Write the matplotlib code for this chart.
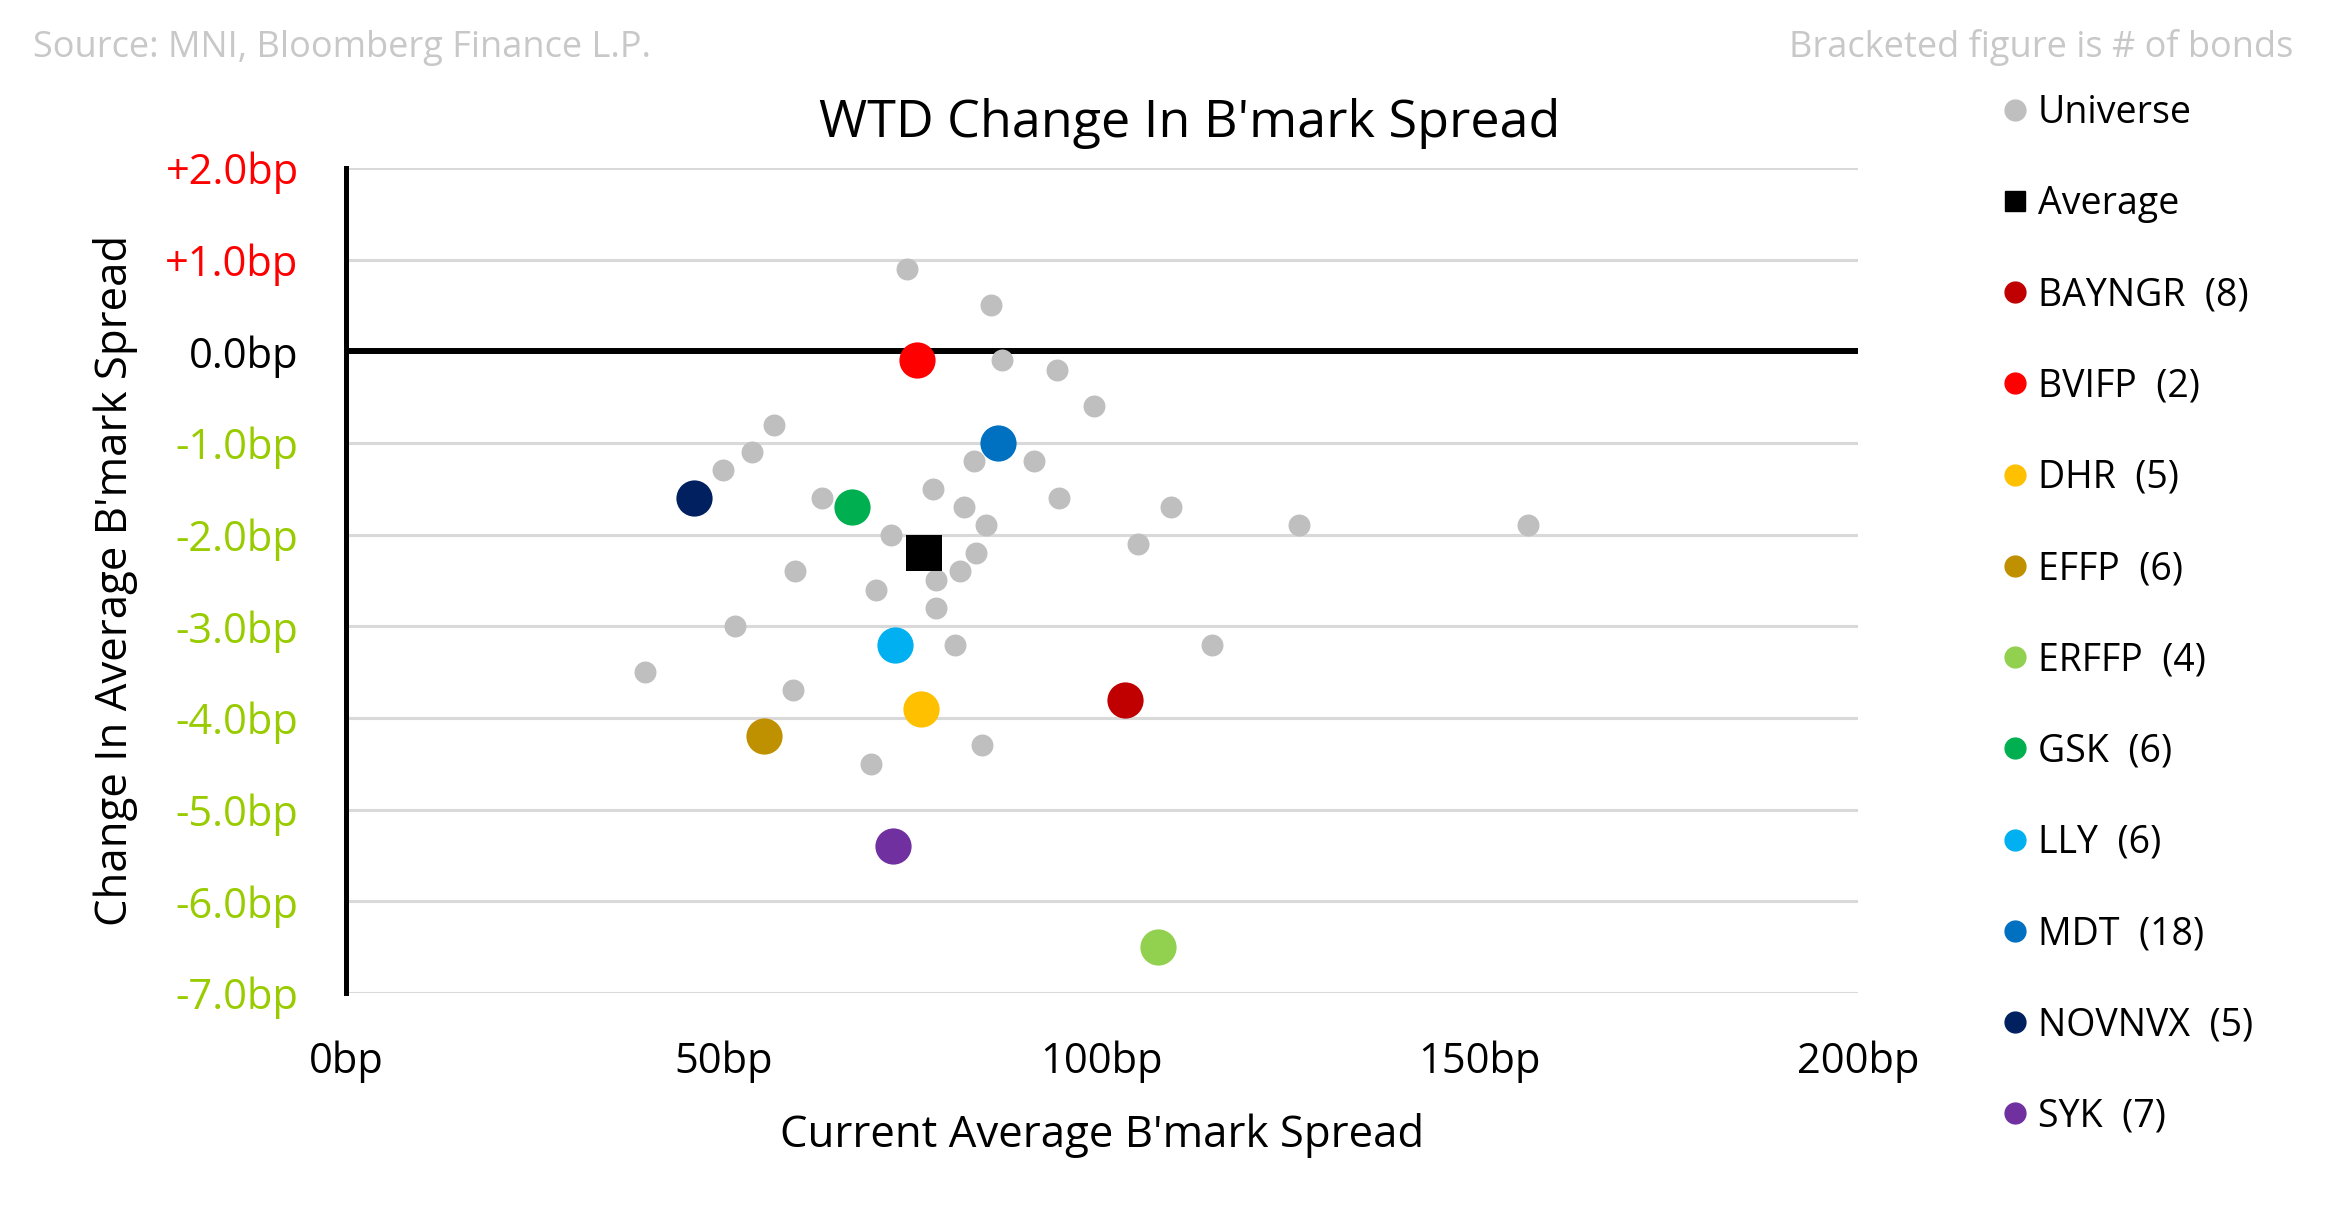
import matplotlib
matplotlib.use('Agg')
import matplotlib.pyplot as plt
from matplotlib.lines import Line2D

plt.rcParams['font.family'] = ['Open Sans', 'DejaVu Sans']

# ---- data
uni_x = [74.2, 85.3, 86.8, 94.1, 98.9, 56.6, 53.7, 49.9, 83.1, 91.0, 63.0, 77.7,
         94.3, 81.8, 84.6, 72.1, 104.8, 83.3, 59.4, 81.2, 78.1, 70.1, 78.1, 51.5,
         80.6, 39.6, 59.1, 126.1, 156.3, 109.2, 114.5, 84.2, 69.4]
uni_y = [0.9, 0.5, -0.1, -0.2, -0.6, -0.8, -1.1, -1.3, -1.2, -1.2, -1.6, -1.5,
         -1.6, -1.7, -1.9, -2.0, -2.1, -2.2, -2.4, -2.4, -2.5, -2.6, -2.8, -3.0,
         -3.2, -3.5, -3.7, -1.9, -1.9, -1.7, -3.2, -4.3, -4.5]

avg_x = [76.5]
avg_y = [-2.2]

names = ['BAYNGR  (8)', 'BVIFP  (2)', 'DHR  (5)', 'EFFP  (6)', 'ERFFP  (4)',
         'GSK  (6)', 'LLY  (6)', 'MDT  (18)', 'NOVNVX  (5)', 'SYK  (7)']
name_x = [103.0, 75.5, 76.1, 55.3, 107.4, 67.0, 72.6, 86.3, 46.1, 72.4]
name_y = [-3.8, -0.1, -3.9, -4.2, -6.5, -1.7, -3.2, -1.0, -1.6, -5.4]
name_colors = ['#C00000', '#FF0000', '#FFC000', '#BF9000', '#92D050',
               '#00B050', '#00B0F0', '#0070C0', '#002060', '#7030A0']

yticks = [-7, -6, -5, -4, -3, -2, -1, 0, 1, 2]
xticks = [0, 50, 100, 150, 200]

# ---- figure
fig = plt.figure(figsize=(23.25, 12.19), dpi=100)
ax = fig.add_axes([0.1488, 0.1854, 0.6503, 0.6768])

ax.set_xlim(0, 200)
ax.set_ylim(-7, 2)

for yv in yticks:
    if yv == 0:
        ax.axhline(yv, color='black', lw=4.3, zorder=2)
    else:
        ax.axhline(yv, color='#D9D9D9', lw=2.2, zorder=1)

ax.scatter(uni_x, uni_y, s=250, color='#BFBFBF', lw=0, zorder=3, label='Universe')
ax.scatter(avg_x, avg_y, s=700, marker='s', color='black', lw=0, zorder=4, label='Average')
for i in range(len(names)):
    ax.scatter([name_x[i]], [name_y[i]], s=680, color=name_colors[i], lw=0,
               zorder=5, label=names[i])

for sp in ['top', 'right', 'bottom']:
    ax.spines[sp].set_visible(False)
ax.spines['left'].set_linewidth(3.6)
ax.spines['left'].set_color('black')

ax.set_yticks(yticks)
ylabs = []
for yv in yticks:
    if yv > 0:
        ylabs.append('+%.1fbp' % yv)
    else:
        ylabs.append('%.1fbp' % yv)
ax.set_yticklabels(ylabs, fontsize=30)
for lab, yv in zip(ax.get_yticklabels(), yticks):
    if yv > 0:
        lab.set_color('#FF0000')
    elif yv == 0:
        lab.set_color('black')
    else:
        lab.set_color('#99CC00')
ax.set_xticks(xticks)
ax.set_xticklabels(['%dbp' % v for v in xticks], fontsize=30)
ax.tick_params(axis='both', length=0)
ax.tick_params(axis='y', pad=34)
ax.tick_params(axis='x', pad=34)

ax.set_xlabel("Current Average B'mark Spread", fontsize=31.5, labelpad=22)
ax.set_ylabel("Change In Average B'mark Spread", fontsize=31.5, labelpad=20)

fig.text(0.5115, 0.899, "WTD Change In B'mark Spread", fontsize=37.5,
         ha='center', va='center')
fig.text(0.0142, 0.961, "Source: MNI, Bloomberg Finance L.P.", fontsize=26,
         color='#C8C8C8', ha='left', va='center')
fig.text(0.9862, 0.961, "Bracketed figure is # of bonds", fontsize=26,
         color='#C8C8C8', ha='right', va='center')

handles = [Line2D([], [], marker='o', ls='none', color='#BFBFBF', markersize=15),
           Line2D([], [], marker='s', ls='none', color='black', markersize=15)]
for c in name_colors:
    handles.append(Line2D([], [], marker='o', ls='none', color=c, markersize=15))
labels = ['Universe', 'Average'] + names
fig.legend(handles, labels, loc='upper left', bbox_to_anchor=(0.862, 0.923),
           frameon=False, fontsize=27, handlelength=0.6, handletextpad=0.3,
           labelspacing=1.42, borderaxespad=0, borderpad=0)

fig.savefig('out.png', dpi=100)
